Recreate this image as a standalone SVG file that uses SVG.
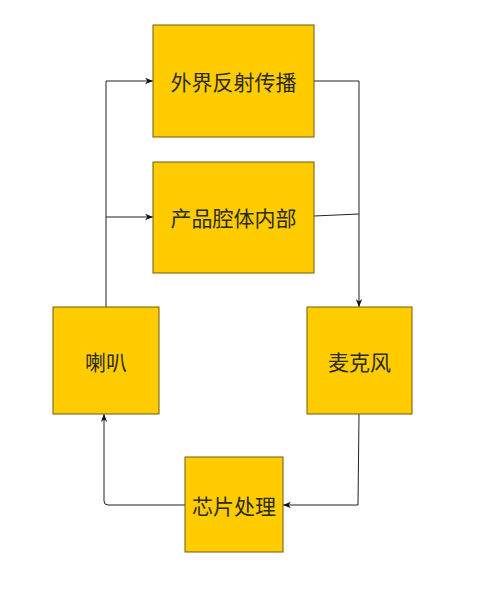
<svg xmlns="http://www.w3.org/2000/svg" width="489" height="595" viewBox="0 0 489 595">
<defs>
<style>
.box{fill:#ffcc00;stroke:#6e5a12;stroke-width:1}
.lbl{font-family:"Noto Sans CJK SC","Noto Sans CJK JP",sans-serif;font-size:21px;fill:#2b2b1a;text-anchor:middle;dominant-baseline:central}
.edge{fill:none;stroke:#222;stroke-width:1}
</style>
<marker id="arr" viewBox="0 0 10 10" refX="10" refY="5" markerWidth="8" markerHeight="8" orient="auto" markerUnits="userSpaceOnUse">
<path d="M0,1 L10,5 L0,9 L3,5 Z" fill="#111"/>
</marker>
</defs>
<rect width="489" height="595" fill="#fff"/>
<g id="connectors">
<path class="edge" d="M106,307 V81 H153" marker-end="url(#arr)"/>
<path class="edge" d="M106,217 H153" marker-end="url(#arr)"/>
<path class="edge" d="M314,81 H359 V307" marker-end="url(#arr)"/>
<path class="edge" d="M314,216 L359,214"/>
<path class="edge" d="M359,414 L358,505 H283" marker-end="url(#arr)"/>
<path class="edge" d="M185,505 H108 Q104,505 104,501 V414" marker-end="url(#arr)"/>
</g>
<g id="n1"><rect class="box" x="153" y="25" width="161" height="112"/><text class="lbl" x="233.5" y="81">外界反射传播</text></g>
<g id="n2"><rect class="box" x="153" y="162" width="161" height="111"/><text class="lbl" x="233.5" y="217">产品腔体内部</text></g>
<g id="n3"><rect class="box" x="53" y="307" width="106" height="107"/><text class="lbl" x="106" y="361">喇叭</text></g>
<g id="n4"><rect class="box" x="307" y="307" width="105" height="107"/><text class="lbl" x="359.5" y="361">麦克风</text></g>
<g id="n5"><rect class="box" x="185" y="457" width="98" height="95"/><text class="lbl" x="234" y="505">芯片处理</text></g>
</svg>
